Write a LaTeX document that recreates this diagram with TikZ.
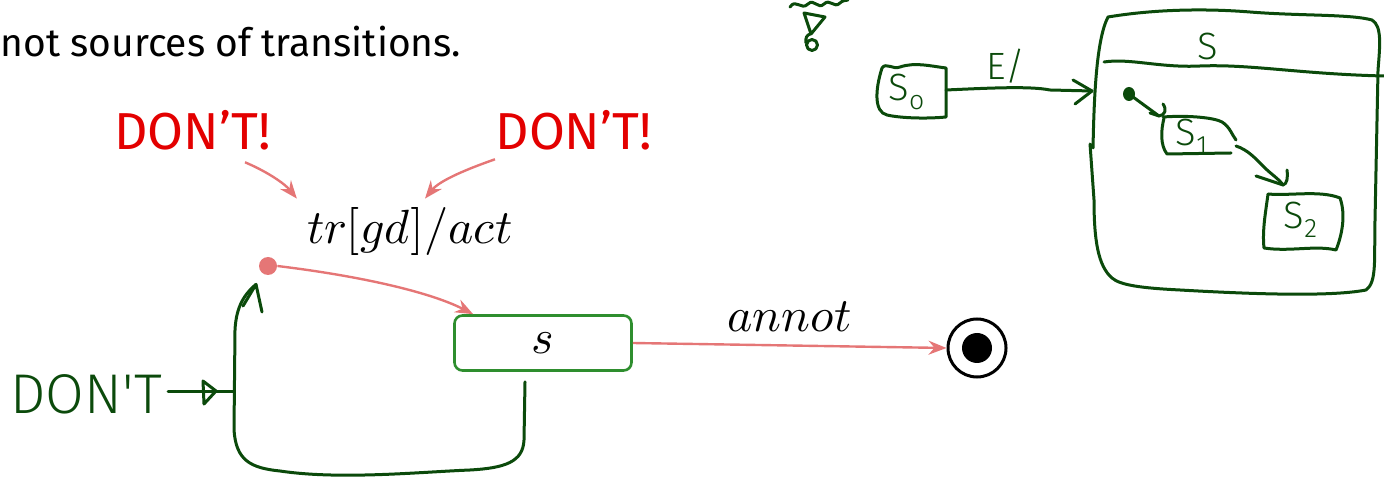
\documentclass[tikz,border=0pt]{standalone}
\usepackage{fontspec}
\usepackage{unicode-math}
\setmainfont{Fira Sans}
\newfontfamily\lightfont{Fira Sans Light}
\setmathfont{Latin Modern Math}
\usetikzlibrary{arrows.meta,calc}

\definecolor{alert}{HTML}{E30000}
\definecolor{salmon}{HTML}{E57676}
\definecolor{boxgreen}{HTML}{2E8E2E}
\definecolor{ink}{HTML}{0B4A0B}

\tikzset{
  flow/.style={draw=salmon, line width=1.2pt,
    -{Stealth[length=9pt,width=7pt,inset=3pt]}},
  dont/.style={text=alert, inner sep=0pt, font=\fontsize{26}{30}\selectfont},
  mathlabel/.style={inner sep=0pt, font=\fontsize{24}{28}\selectfont},
  statebox/.style={draw=boxgreen, line width=1.3pt, rounded corners=4pt,
    minimum width=88.5pt, minimum height=27.5pt, inner sep=0pt,
    font=\fontsize{24}{28}\selectfont},
  initdot/.style={circle, fill=salmon, minimum size=9pt, inner sep=0pt},
  finalstate/.style={circle, draw=black, line width=1.5pt, minimum size=29pt, inner sep=0pt},
  hand/.style={draw=ink, line width=1.5pt, line cap=round, line join=round},
  handtext/.style={text=ink, inner sep=0pt, font=\lightfont\fontsize{19}{22}\selectfont},
}

\begin{document}
\begin{tikzpicture}[x=0.5pt,y=-0.5pt]
\useasboundingbox (0,0) rectangle (1384,485);

% running text
\node[anchor=base west, inner sep=0pt, font=\fontsize{19.5}{23}\selectfont]
  (txt) at (0,57) {not sources of transitions.};

% warnings and the transition label
\node[dont] (d1) at (193,130) {DON’T!};
\node[dont] (d2) at (574,130) {DON’T!};
\node[mathlabel] (lab) at (410,232) {$tr[gd]/act$};

\draw[flow] ($(d1.south)+(52,12)$) .. controls (268,172) and (285,184) .. ($(lab.north west)+(-10,-9)$);
\draw[flow] ($(d2.south)+(-79,9)$) .. controls (470,168) and (440,180) .. ($(lab.north)+(15,-9)$);

% states
\node[initdot] (init) at (268,266) {};
\node[statebox] (s) at (543,343) {$s$};
\node[finalstate] (f) at (977,348) {};
\fill[black] (f.center) circle[radius=7.5pt];

\draw[flow] (init.east) .. controls (360,276) and (430,292) .. ($(s.north west)+(20,0)$);
\draw[flow] (s.east) -- (f.west) node[midway, above=6pt, mathlabel] (annot) {$annot$};

% hand-drawn loop back to the initial pseudostate
\coordinate (loopstart) at ($(s.south)+(-18,10)$);
\coordinate (looptip) at ($(init.south)+(-12,9)$);
\draw[hand] (loopstart) -- (524,440) .. controls (523,462) and (505,468) .. (470,470)
  .. controls (420,472) and (340,480) .. (280,471)
  .. controls (250,468) and (236,460) .. (234,430)
  -- (235,330) .. controls (236,310) and (242,296) .. (looptip);
\draw[hand] (243,306) -- (looptip) -- (262,312);

% hand-written remark with its arrow
\node[handtext, font=\lightfont\fontsize{28}{30}\selectfont] (dont3) at (86,394) {DON'T};
\coordinate (side) at (233,392);
\draw[hand] ($(dont3.east)+(6,-2)$) -- (side);
\draw[hand] (203,381) -- (204,404) -- (216,391) -- cycle;

% scribble at the top edge
\draw[hand] (790,7) .. controls (796,-2) and (801,11) .. (808,4) .. controls (814,-2) and (818,10) .. (824,4)
  .. controls (830,-2) and (834,9) .. (840,3) .. controls (843,0) and (845,1) .. (848,0);
\draw[hand] (804,13) -- (825,17) -- (811,34) -- cycle;
\draw[hand] (812,45) circle[radius=5.5] (806,43) .. controls (805,38) and (807,35) .. (810,34);

% hand-drawn composite state example
\node[handtext] (S0) at (907,92) {S\textsubscript{o}};
\draw[hand] (882,68) .. controls (886,62) and (893,70) .. (900,67) .. controls (915,62) and (930,66) .. (946,68)
  -- (946,117) .. controls (925,119) and (900,118) .. (887,115)
  .. controls (874,112) and (875,90) .. cycle;

\node[handtext] (E) at (1006,66) {E/};
\coordinate (Sleft) at (1092,91);
\draw[hand] (946,90) .. controls (990,88) and (1030,86) .. (1050,90) -- (Sleft);
\draw[hand] (1073,80) -- (Sleft) -- (1075,104);

\node[handtext] (Slab) at (1208,46) {S};
\draw[hand] (1093,148) .. controls (1094,100) and (1096,40) .. (1108,17)
  .. controls (1150,10) and (1200,8) .. (1250,12)
  .. controls (1300,16) and (1350,14) .. (1372,20)
  .. controls (1382,26) and (1380,45) .. (1378,70)
  -- (1375,220) .. controls (1374,260) and (1377,282) .. (1366,290)
  .. controls (1330,297) and (1250,294) .. (1180,290)
  .. controls (1140,288) and (1120,285) .. (1112,278)
  .. controls (1098,266) and (1094,240) .. (1094,200) -- (1090,144);
\draw[hand] (1104,62) .. controls (1130,58) and (1160,68) .. (1200,66)
  .. controls (1250,64) and (1300,74) .. (1384,76);

% inner initial state and substates
\fill[ink] (1129,94) ellipse[x radius=6, y radius=7];
\node[handtext] (S1) at (1192,137) {S\textsubscript{1}};
\node[handtext] (S2) at (1301,220) {S\textsubscript{2}};
\coordinate (s1tip) at (1159,116);
\draw[hand] (1133,97) -- (s1tip);
\draw[hand] (1163,104) .. controls (1167,110) and (1165,115) .. (s1tip) -- (1150,113);
\draw[hand] (1163,117) .. controls (1190,115) and (1215,118) .. (1222,122)
  .. controls (1230,127) and (1232,135) .. (1236,140);
\draw[hand] (1164,118) .. controls (1161,130) and (1160,145) .. (1167,154) -- (1231,153);

\coordinate (s2tip) at (1283,185);
\draw[hand] (1236,146) .. controls (1248,150) and (1255,158) .. (1265,168) .. controls (1272,175) and (1278,178) .. (s2tip);
\draw[hand] (1287,170) .. controls (1288,178) and (1287,184) .. (s2tip) -- (1256,176);
\draw[hand] (1268,194) .. controls (1290,196) and (1320,190) .. (1340,198)
  .. controls (1346,215) and (1342,235) .. (1336,250)
  .. controls (1315,245) and (1290,252) .. (1264,248)
  .. controls (1262,230) and (1266,210) .. cycle;
\end{tikzpicture}
\end{document}
